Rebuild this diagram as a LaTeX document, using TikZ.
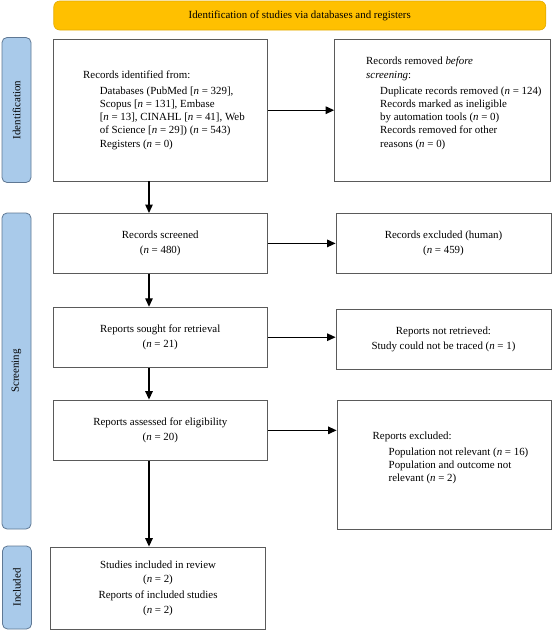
\documentclass[tikz,border=0pt]{standalone}
\usepackage{fontspec}
\setmainfont{Liberation Serif}
\usetikzlibrary{arrows.meta}
\definecolor{bannerfill}{HTML}{FFC000}
\definecolor{bannerline}{HTML}{E3AB00}
\definecolor{phasefill}{HTML}{A9CAEA}
\definecolor{phaseline}{HTML}{5F7894}
\definecolor{boxline}{HTML}{5A5A5A}
\newcommand{\nrec}[1]{\textit{n} = #1}

\begin{document}
\begin{tikzpicture}[x=1pt, y=-1pt, >={Triangle[length=8.5pt, width=7.5pt]},
  every node/.style={font=\fontsize{10.9}{13.3}\selectfont},
  box/.style={draw=boxline, line width=0.8pt, rectangle, inner sep=0pt},
  phase/.style={draw=phaseline, fill=phasefill, line width=0.8pt, rounded corners=5pt, rotate=90, minimum height=29pt, inner sep=0pt},
  note/.style={anchor=west, align=left, inner sep=0pt},
  mid/.style={align=center, font=\fontsize{10.9}{14.3}\selectfont},
  flow/.style={->, line width=1.3pt}]
\useasboundingbox (0,0) rectangle (552,633);
\node[draw=bannerline, fill=bannerfill, line width=0.6pt, rounded corners=6pt, minimum width=492pt, minimum height=29pt] (banner) at (299.75,15.5) {Identification of studies via databases and registers};
\node[phase, minimum width=145pt] (idphase) at (16.5,110) {Identification};
\node[phase, minimum width=316pt] (scphase) at (16.5,371) {Screening};
\node[phase, minimum width=83pt] (inphase) at (17,587.5) {Included};
\node[box, minimum width=214.5pt, minimum height=141.7pt] (ident) at (160.25,110.2) {};
\node[box, minimum width=216pt, minimum height=141.7pt] (removed) at (442.6,110.2) {};
\node[box, mid, minimum width=214.5pt, minimum height=60pt] (screened) at (160.25,243.4) {Records screened\\(\nrec{480})};
\node[box, mid, minimum width=215pt, minimum height=60pt] (excluded) at (443.5,243.4) {Records excluded (human)\\(\nrec{459})};
\node[box, mid, minimum width=214.5pt, minimum height=60pt] (sought) at (160.25,337.2) {Reports sought for retrieval\\(\nrec{21})};
\node[box, mid, minimum width=215pt, minimum height=60pt] (notretr) at (443.5,339.3) {Reports not retrieved:\\Study could not be traced (\nrec{1})};
\node[box, mid, minimum width=214.7pt, minimum height=60.7pt] (assessed) at (160.35,430.35) {Reports assessed for eligibility\\(\nrec{20})};
\node[box, minimum width=214pt, minimum height=129.3pt] (repexcl) at (444,464.65) {};
\node[box, mid, minimum width=214.5pt, minimum height=82pt] (included) at (158,588) {Studies included in review\\(\nrec{2})\\[2pt]Reports of included studies\\(\nrec{2})};
\node[note] (identtxt) at (83,110) {Records identified from:\\[2.7pt]
  \hspace*{16.6pt}Databases (PubMed [\nrec{329}],\\
  \hspace*{16.6pt}Scopus [\nrec{131}], Embase\\
  \hspace*{16.6pt}[\nrec{13}], CINAHL [\nrec{41}], Web\\
  \hspace*{16.6pt}of Science [\nrec{29}]) (\nrec{543})\\
  \hspace*{16.6pt}Registers (\nrec{0})};
\node[note] (removedtxt) at (366,103.3) {Records removed \textit{before}\\
  \textit{screening}:\\[2.7pt]
  \hspace*{14pt}Duplicate records removed (\nrec{124})\\
  \hspace*{14pt}Records marked as ineligible\\
  \hspace*{14pt}by automation tools (\nrec{0})\\
  \hspace*{14pt}Records removed for other\\
  \hspace*{14pt}reasons (\nrec{0})};
\node[note] (repexcltxt) at (372.5,457.8) {Reports excluded:\\[2.5pt]
  \hspace*{16pt}Population not relevant (\nrec{16})\\
  \hspace*{16pt}Population and outcome not\\
  \hspace*{16pt}relevant (\nrec{2})};
\coordinate (spine) at (149,0);
\draw[flow] (ident.south -| spine) -- (screened.north -| spine);
\draw[flow] (screened.south -| spine) -- (sought.north -| spine);
\draw[flow] (sought.south -| spine) -- (assessed.north -| spine);
\draw[flow] (assessed.south -| spine) -- (included.north -| spine);
\draw[flow] (ident.east) -- (removed.west);
\draw[flow] (screened.east) -- (excluded.west);
\draw[flow] (sought.east) -- (sought.east -| notretr.west);
\draw[flow] (assessed.east) -- (assessed.east -| repexcl.west);
\end{tikzpicture}
\end{document}
